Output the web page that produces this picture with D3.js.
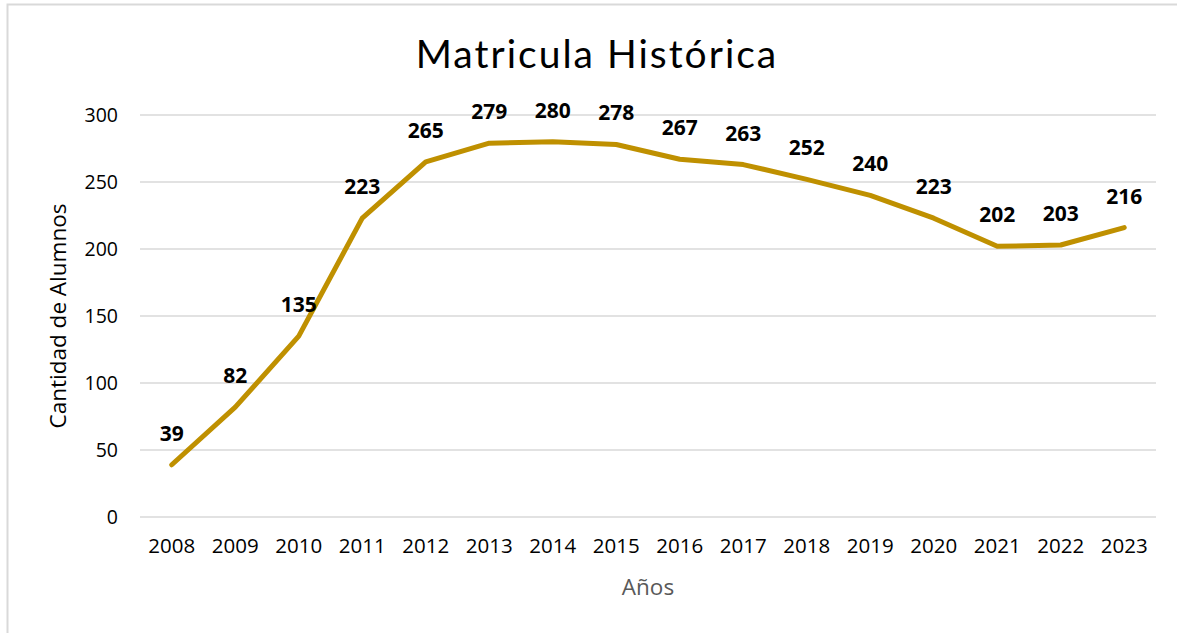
<!DOCTYPE html>
<html>
<head>
<meta charset="utf-8">
<script src="https://cdn.jsdelivr.net/npm/d3@7"></script>
<style>
  body { margin: 0; background: #fff; }
  text { font-family: "Open Sans", "DejaVu Sans", sans-serif; }
</style>
</head>
<body>
<div id="chart"></div>
<script>
// data
var years = ["2008", "2009", "2010", "2011", "2012", "2013", "2014", "2015",
  "2016", "2017", "2018", "2019", "2020", "2021", "2022", "2023"];
var alumnos = [39, 82, 135, 223, 265, 279, 280, 278, 267, 263, 252, 240, 223, 202, 203, 216];
var yTicks = [0, 50, 100, 150, 200, 250, 300];

var svgWidth = 1177;
var svgHeight = 633;

var margin = { top: 115, right: 20, bottom: 116, left: 140 };
var width = 1156 - margin.left;
var height = svgHeight - margin.top - margin.bottom;

var svg = d3.select("#chart")
  .append("svg")
  .attr("width", svgWidth)
  .attr("height", svgHeight);

// chart border (only left/top are inside the frame)
svg.append("rect")
  .attr("x", 7.5)
  .attr("y", 4.5)
  .attr("width", 1200)
  .attr("height", 700)
  .attr("fill", "none")
  .attr("stroke", "#d9d9d9")
  .attr("stroke-width", 2);

var chartGroup = svg.append("g")
  .attr("transform", `translate(${margin.left}, ${margin.top})`);

var xScale = d3.scaleBand()
  .domain(years)
  .range([0, width]);

var yScale = d3.scaleLinear()
  .domain([0, 300])
  .range([height, 0]);

// gridlines
chartGroup.append("g")
  .selectAll("line")
  .data(yTicks)
  .enter()
  .append("line")
  .attr("x1", 0)
  .attr("x2", width)
  .attr("y1", d => yScale(d))
  .attr("y2", d => yScale(d))
  .attr("stroke", "#d9d9d9")
  .attr("stroke-width", 1.5);

// y axis
var leftAxis = d3.axisLeft(yScale).tickValues(yTicks).tickSize(0).tickPadding(22);
var yAxis = chartGroup.append("g").call(leftAxis);
yAxis.select(".domain").remove();
yAxis.selectAll("text")
  .style("font-size", "19.5px")
  .attr("fill", "#000");

// x axis
var bottomAxis = d3.axisBottom(xScale).tickSize(0).tickPadding(21);
var xAxis = chartGroup.append("g")
  .attr("transform", `translate(0, ${height})`)
  .call(bottomAxis);
xAxis.select(".domain").remove();
xAxis.selectAll("text")
  .style("font-size", "20.5px")
  .attr("fill", "#000");

// line
var line = d3.line()
  .x((d, i) => xScale(years[i]) + xScale.bandwidth() / 2)
  .y(d => yScale(d));

chartGroup.append("path")
  .datum(alumnos)
  .attr("d", line)
  .attr("fill", "none")
  .attr("stroke", "#BF9000")
  .attr("stroke-width", 5)
  .attr("stroke-linecap", "round")
  .attr("stroke-linejoin", "round");

// data labels
chartGroup.append("g")
  .selectAll("text")
  .data(alumnos)
  .enter()
  .append("text")
  .attr("x", (d, i) => xScale(years[i]) + xScale.bandwidth() / 2)
  .attr("y", d => yScale(d) - 24)
  .attr("text-anchor", "middle")
  .style("font-size", "21px")
  .style("font-weight", "bold")
  .attr("fill", "#000")
  .text(d => d);

// title
svg.append("text")
  .attr("x", 597)
  .attr("y", 68)
  .attr("text-anchor", "middle")
  .style("font-family", "Lato, sans-serif")
  .style("font-size", "39px")
  .style("letter-spacing", "2px")
  .attr("fill", "#000")
  .text("Matricula Histórica");

// axis titles
svg.append("text")
  .attr("transform", "rotate(-90)")
  .attr("x", -316)
  .attr("y", 66)
  .attr("text-anchor", "middle")
  .style("font-size", "22.5px")
  .attr("fill", "#000")
  .text("Cantidad de Alumnos");

svg.append("text")
  .attr("x", 648)
  .attr("y", 595)
  .attr("text-anchor", "middle")
  .style("font-size", "22.5px")
  .attr("fill", "#595959")
  .text("Años");
</script>
</body>
</html>
